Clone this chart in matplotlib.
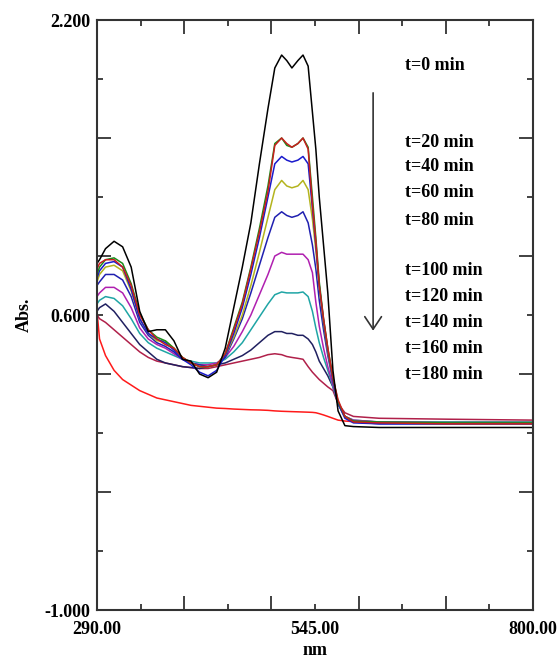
import matplotlib
matplotlib.use("Agg")
import matplotlib.pyplot as plt

plt.rcParams['font.family'] = ['Liberation Serif', 'DejaVu Serif']
plt.rcParams['font.weight'] = 'bold'

# wavelength grid (nm)
wl = [290, 293, 300, 310, 320, 330, 340, 350, 360, 370, 380, 390, 400, 410,
      420, 430, 440, 450, 460, 470, 480, 490, 498, 506, 512, 518, 525, 531,
      537, 542, 546, 550, 555, 560, 566, 572, 580, 590, 620, 700, 800]

abs_t0 = [0.88, 0.90, 0.96, 1.00, 0.97, 0.86, 0.62, 0.51, 0.52, 0.52, 0.46, 0.36, 0.35, 0.28,
          0.26, 0.29, 0.42, 0.64, 0.86, 1.10, 1.42, 1.72, 1.94, 2.01, 1.98, 1.94, 1.98, 2.01,
          1.95, 1.70, 1.50, 1.24, 0.98, 0.72, 0.30, 0.08, 0.0, -0.005, -0.01, -0.01, -0.01]
abs_t20 = [0.85, 0.88, 0.90, 0.90, 0.86, 0.76, 0.60, 0.52, 0.47, 0.44, 0.42, 0.37, 0.34, 0.32,
           0.32, 0.33, 0.39, 0.52, 0.66, 0.85, 1.05, 1.27, 1.52, 1.56, 1.53, 1.51, 1.53, 1.56,
           1.50, 1.20, 1.00, 0.76, 0.58, 0.42, 0.26, 0.14, 0.05, 0.02, 0.015, 0.01, 0.01]
abs_t40 = [0.82, 0.86, 0.90, 0.91, 0.88, 0.77, 0.61, 0.52, 0.48, 0.46, 0.42, 0.37, 0.34, 0.32,
           0.32, 0.33, 0.39, 0.53, 0.67, 0.86, 1.07, 1.30, 1.53, 1.56, 1.52, 1.51, 1.53, 1.56,
           1.51, 1.24, 1.02, 0.78, 0.58, 0.42, 0.26, 0.13, 0.05, 0.025, 0.02, 0.015, 0.015]
abs_t60 = [0.80, 0.84, 0.88, 0.89, 0.86, 0.74, 0.58, 0.50, 0.47, 0.45, 0.41, 0.36, 0.33, 0.29,
           0.27, 0.30, 0.38, 0.50, 0.64, 0.82, 1.02, 1.24, 1.42, 1.46, 1.44, 1.43, 1.44, 1.46,
           1.42, 1.18, 0.98, 0.76, 0.57, 0.41, 0.25, 0.12, 0.04, 0.015, 0.01, 0.01, 0.01]
abs_t80 = [0.78, 0.82, 0.86, 0.87, 0.84, 0.73, 0.58, 0.50, 0.46, 0.46, 0.42, 0.37, 0.34, 0.32,
           0.32, 0.33, 0.38, 0.48, 0.60, 0.76, 0.94, 1.13, 1.28, 1.33, 1.30, 1.29, 1.30, 1.33,
           1.28, 1.12, 0.95, 0.75, 0.56, 0.40, 0.25, 0.12, 0.05, 0.02, 0.015, 0.01, 0.01]
abs_t100 = [0.76, 0.78, 0.82, 0.82, 0.79, 0.70, 0.56, 0.49, 0.45, 0.43, 0.40, 0.36, 0.34, 0.33,
            0.32, 0.33, 0.37, 0.47, 0.58, 0.72, 0.87, 1.02, 1.13, 1.16, 1.14, 1.13, 1.14, 1.16,
            1.10, 0.98, 0.85, 0.68, 0.52, 0.38, 0.24, 0.12, 0.05, 0.02, 0.01, 0.01, 0.01]
abs_t120 = [0.70, 0.72, 0.75, 0.75, 0.72, 0.64, 0.53, 0.47, 0.44, 0.42, 0.39, 0.36, 0.34, 0.33,
            0.33, 0.34, 0.37, 0.43, 0.51, 0.60, 0.71, 0.82, 0.92, 0.94, 0.93, 0.93, 0.93, 0.93,
            0.90, 0.83, 0.67, 0.54, 0.42, 0.32, 0.22, 0.12, 0.05, 0.03, 0.02, 0.015, 0.015]
abs_t140 = [0.66, 0.68, 0.70, 0.69, 0.65, 0.58, 0.50, 0.45, 0.42, 0.40, 0.38, 0.36, 0.35, 0.34,
            0.34, 0.34, 0.36, 0.40, 0.45, 0.52, 0.59, 0.66, 0.71, 0.725, 0.72, 0.72, 0.72, 0.725,
            0.70, 0.62, 0.53, 0.45, 0.37, 0.30, 0.21, 0.12, 0.05, 0.03, 0.02, 0.02, 0.02]
abs_t160 = [0.62, 0.64, 0.66, 0.62, 0.56, 0.50, 0.44, 0.40, 0.36, 0.34, 0.33, 0.32, 0.315, 0.31,
            0.32, 0.33, 0.34, 0.36, 0.38, 0.41, 0.45, 0.49, 0.51, 0.51, 0.50, 0.50, 0.49, 0.49,
            0.47, 0.44, 0.40, 0.35, 0.31, 0.27, 0.21, 0.12, 0.05, 0.025, 0.02, 0.015, 0.015]
abs_t180 = [0.60, 0.58, 0.56, 0.52, 0.48, 0.44, 0.40, 0.37, 0.35, 0.34, 0.33, 0.32, 0.315, 0.31,
            0.31, 0.32, 0.33, 0.34, 0.35, 0.36, 0.37, 0.385, 0.39, 0.385, 0.375, 0.37, 0.365, 0.36,
            0.32, 0.29, 0.27, 0.25, 0.23, 0.21, 0.19, 0.12, 0.07, 0.05, 0.04, 0.035, 0.03]
abs_end = [0.62, 0.47, 0.38, 0.30, 0.25, 0.22, 0.19, 0.17, 0.15, 0.14, 0.13, 0.12, 0.11, 0.105,
           0.10, 0.095, 0.093, 0.09, 0.088, 0.086, 0.085, 0.083, 0.08, 0.078, 0.077, 0.076, 0.075, 0.074,
           0.073, 0.072, 0.07, 0.065, 0.058, 0.05, 0.04, 0.03, 0.025, 0.022, 0.02, 0.02, 0.02]

curves = [abs_t0, abs_t20, abs_t40, abs_t60, abs_t80, abs_t100,
          abs_t120, abs_t140, abs_t160, abs_t180, abs_end]
colors = ['#000000', '#c81e1e', '#1a8c1a', '#1a1acc', '#b4b41e', '#2020b0',
          '#b020b0', '#1fa5a5', '#202060', '#b0204a', '#ff1a1a']

labels = ['t=0 min', 't=20 min', 't=40 min', 't=60 min', 't=80 min',
          't=100 min', 't=120 min', 't=140 min', 't=160 min', 't=180 min']
label_y = [1.956, 1.538, 1.403, 1.262, 1.115, 0.844, 0.698, 0.557, 0.421, 0.280]

fig = plt.figure(figsize=(5.57, 6.63), dpi=100)
ax = fig.add_axes([0.1741, 0.0799, 0.7828, 0.8899])

for y, c in zip(curves[::-1], colors[::-1]):
    ax.plot(wl, y, color=c, lw=1.1)

for lab, ly in zip(labels, label_y):
    ax.text(650, ly, lab, fontsize=13, fontweight='bold', va='center', ha='left')

# arrow showing decrease with time
ax.annotate('', xy=(613, 0.50), xytext=(613, 1.82),
            arrowprops=dict(arrowstyle='->,head_length=0.6,head_width=0.4',
                            color='#333333', lw=1.2, mutation_scale=15))

ax.set_xlim(290, 800)
ax.set_ylim(-1.0, 2.2)

xmaj = [290, 392, 494, 596, 698, 800]
xmin = [341, 443, 545, 647, 749]
ymaj = [-1.0, -0.36, 0.28, 0.92, 1.56, 2.2]
ymin = [-0.68, -0.04, 0.6, 1.24, 1.88]
ax.set_xticks(xmaj, ['290.00', '', '', '', '', '800.00'])
ax.set_xticks(xmin, ['', '', '545.00', '', ''], minor=True)
ax.set_yticks(ymaj, ['-1.000', '', '', '', '', '2.200'])
ax.set_yticks(ymin, ['', '', '0.600', '', ''], minor=True)

ax.tick_params(which='both', direction='in', top=True, right=True,
               labelsize=13, width=1.3, color='#333333')
ax.tick_params(which='major', length=10)
ax.tick_params(which='minor', length=4.3)
ax.tick_params(axis='x', which='both', pad=8)
ax.tick_params(axis='y', which='both', pad=5)
for lab in ax.get_xticklabels(which='both') + ax.get_yticklabels(which='both'):
    lab.set_fontweight('bold')

for s in ax.spines.values():
    s.set_linewidth(1.5)
    s.set_color('#333333')

ax.set_xlabel('nm', fontsize=13, fontweight='bold', labelpad=3)
ax.set_ylabel('Abs.', fontsize=13, fontweight='bold', labelpad=8)

plt.savefig('out.png', dpi=100)
